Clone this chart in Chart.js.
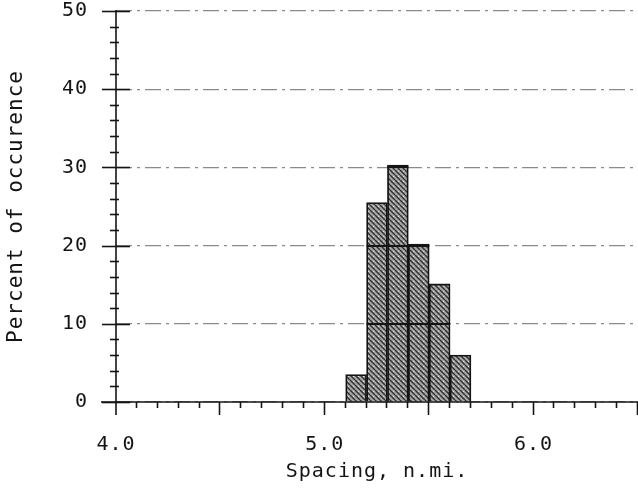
<!DOCTYPE html>
<html><head><meta charset="utf-8">
<script src="https://cdn.jsdelivr.net/npm/chart.js@4"></script>
<style>html,body{margin:0;padding:0;background:#fff}#wrap{width:638px;height:494px}</style>
</head><body><div id="wrap"><canvas id="c" width="638" height="494"></canvas></div>
<script>
// ---- data ----
const binCenters = [5.15, 5.25, 5.35, 5.45, 5.55, 5.65];   // spacing bin centres, n.mi.
const percents   = [3.5, 25.5, 30.3, 20.2, 15.1, 6.0];     // percent of occurrence
const xTickLabels = [4.0, 5.0, 6.0];
const yTickLabels = [0, 10, 20, 30, 40, 50];
const xRange = [4.0, 6.5];
const yRange = [0, 50];
const xMinorStep = 0.1, xMajorEvery = 5;
const yMinorStep = 2;

const FONT = "'DejaVu Sans Mono', 'Liberation Mono', monospace";
const INK = '#141414';

// hatched fill pattern
function makePattern() {
  const t = document.createElement('canvas');
  t.width = 5; t.height = 5;
  const g = t.getContext('2d');
  g.fillStyle = '#a6a6a6'; g.fillRect(0, 0, 5, 5);
  g.strokeStyle = '#2e2e2e'; g.lineWidth = 1.4;
  for (const k of [-5, 0, 5]) { g.beginPath(); g.moveTo(k, 0); g.lineTo(k + 5, 5); g.stroke(); }
  g.fillStyle = '#dcdcdc'; g.fillRect(3, 1, 1, 1);
  return g.createPattern(t, 'repeat');
}

const axesPlugin = {
  id: 'axesPlugin',
  beforeDraw(chart) { chart.ctx.letterSpacing = '1px'; },
  afterDatasetsDraw(chart) {
    const { ctx, chartArea: a, scales: { x, y } } = chart;
    ctx.save();
    ctx.letterSpacing = '0px';
    // level lines inside bars
    const meta = chart.getDatasetMeta(0);
    ctx.strokeStyle = INK; ctx.lineWidth = 2;
    meta.data.forEach((bar, i) => {
      const half = bar.width / 2;
      yTickLabels.filter(v => v > 0 && v < percents[i]).forEach(v => {
        const py = Math.round(y.getPixelForValue(v));
        ctx.beginPath(); ctx.moveTo(bar.x - half, py); ctx.lineTo(bar.x + half, py); ctx.stroke();
      });
    });
    const x0 = x.getPixelForValue(xRange[0]);
    const y0 = y.getPixelForValue(yRange[0]);
    ctx.lineWidth = 1.6; ctx.strokeStyle = INK;
    // y axis
    ctx.beginPath();
    ctx.moveTo(x0, y.getPixelForValue(yRange[1]) - 1);
    ctx.lineTo(x0, y0 + 13);
    ctx.stroke();
    for (let v = yRange[0]; v <= yRange[1] + 1e-9; v += yMinorStep) {
      const py = Math.round(y.getPixelForValue(v)) + 0.5;
      const major = v % 10 === 0;
      ctx.beginPath();
      ctx.moveTo(x0 - (major ? 14 : 6), py);
      ctx.lineTo(x0 + (major ? 14 : 3), py);
      ctx.stroke();
    }
    // x axis
    ctx.beginPath();
    ctx.moveTo(x0 - 15, y0); ctx.lineTo(a.right, y0); ctx.stroke();
    const n = Math.round((xRange[1] - xRange[0]) / xMinorStep);
    for (let k = 1; k <= n; k++) {
      const px = Math.round(x.getPixelForValue(xRange[0] + k * xMinorStep)) - 0.5;
      const len = k % xMajorEvery === 0 ? 13 : 6;
      ctx.beginPath(); ctx.moveTo(px, y0); ctx.lineTo(px, y0 + len); ctx.stroke();
    }
    ctx.restore();
  }
};

new Chart(document.getElementById('c'), {
  type: 'bar',
  data: {
    datasets: [{
      data: binCenters.map((v, i) => ({ x: v, y: percents[i] })),
      backgroundColor: makePattern(),
      borderColor: INK,
      borderWidth: 1.8,
      barPercentage: 1,
      categoryPercentage: 1
    }]
  },
  options: {
    responsive: false,
    animation: false,
    devicePixelRatio: 1,
    layout: { padding: { top: 11, right: 0, bottom: 0, left: 0 } },
    plugins: { legend: { display: false }, tooltip: { enabled: false } },
    scales: {
      x: {
        type: 'linear',
        offset: false,
        min: xRange[0], max: xRange[1],
        afterBuildTicks: s => { s.ticks = xTickLabels.map(v => ({ value: v })); },
        afterFit: s => { s.height = 92; s.paddingLeft = 0; s.paddingRight = 0; },
        grid: { display: false, drawTicks: false, offset: false },
        border: { display: false },
        ticks: {
          autoSkip: false, maxRotation: 0, padding: 32, color: INK,
          font: { family: FONT, size: 20, lineHeight: 1.1 },
          callback: v => Number(v).toFixed(1)
        },
        title: {
          display: true, text: 'Spacing, n.mi.', color: INK,
          font: { family: FONT, size: 20, lineHeight: 1.2 },
          padding: { top: 0, bottom: 10 }
        }
      },
      y: {
        min: yRange[0], max: yRange[1],
        afterBuildTicks: s => { s.ticks = yTickLabels.map(v => ({ value: v })); },
        afterFit: s => { s.width = 116; s.paddingTop = 0; s.paddingBottom = 0; },
        grid: { color: '#8a8a8a', lineWidth: 1.2, drawTicks: false },
        border: { display: false, dash: [16, 5, 3, 5] },
        ticks: {
          padding: 28, color: INK,
          font: { family: FONT, size: 20, lineHeight: 1.1 }
        },
        title: {
          display: true, text: 'Percent of occurence', color: INK,
          font: { family: FONT, size: 21, lineHeight: 1.2 },
          padding: { top: 4, bottom: 0 }
        }
      }
    }
  },
  plugins: [axesPlugin]
});
</script>
</body></html>
